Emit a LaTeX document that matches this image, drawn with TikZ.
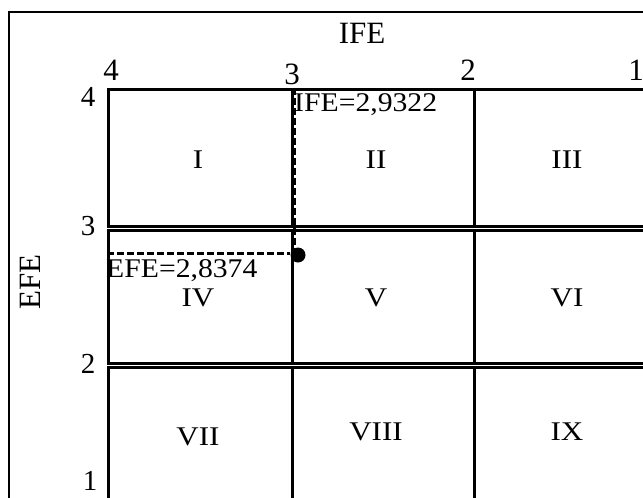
\documentclass[tikz,border=0pt]{standalone}
\usepackage{fontspec}
\usepackage{graphicx}
\setmainfont{Liberation Serif}
% slightly widened text, as in the printed chart
\newcommand\widetext[2][1.12]{\scalebox{#1}[1]{#2}}
\begin{document}
\begin{tikzpicture}[x=1pt,y=-1pt,
  frame/.style={draw=black,line width=2pt},
  cell/.style={draw=black,line width=2.8pt,anchor=north west,inner sep=0pt},
  lbl/.style={font=\fontsize{27}{30}\selectfont,inner sep=0pt},
  tick/.style={font=\fontsize{31}{33}\selectfont,inner sep=0pt},
  ytick/.style={font=\fontsize{29}{31}\selectfont,inner sep=0pt},
  title/.style={font=\fontsize{31}{33}\selectfont,inner sep=0pt},
  val/.style={font=\fontsize{27}{30}\selectfont,inner sep=0pt,anchor=west},
  guide/.style={draw=black,line width=3pt,dash pattern=on 7pt off 3pt},
  dot/.style={circle,fill=black,minimum size=15pt,inner sep=0pt}]
\useasboundingbox (0,0) rectangle (643,498);
% outer frame
\draw[frame] (9,12) rectangle (660,520);
% grid cells, one row of boxes per EFE band
\node[cell,minimum width=184pt,minimum height=137pt] (c1) at (107,88) {};
\node[cell,minimum width=182pt,minimum height=137pt] (c2) at (291,88) {};
\node[cell,minimum width=182pt,minimum height=137pt] (c3) at (473,88) {};
\node[cell,minimum width=184pt,minimum height=133pt] (c4) at (107,229) {};
\node[cell,minimum width=182pt,minimum height=133pt] (c5) at (291,229) {};
\node[cell,minimum width=182pt,minimum height=133pt] (c6) at (473,229) {};
\node[cell,minimum width=184pt,minimum height=150pt] (c7) at (107,366) {};
\node[cell,minimum width=182pt,minimum height=150pt] (c8) at (291,366) {};
\node[cell,minimum width=182pt,minimum height=150pt] (c9) at (473,366) {};
% quadrant numerals
\node[lbl] (n1) at (198,160) {\widetext[1.15]{I}};
\node[lbl] (n2) at (376,160) {\widetext[1.15]{II}};
\node[lbl] (n3) at (567,160) {\widetext[1.15]{III}};
\node[lbl] (n4) at (198,298) {\widetext[1.15]{IV}};
\node[lbl] (n5) at (376,298) {\widetext[1.15]{V}};
\node[lbl] (n6) at (567,298) {\widetext[1.15]{VI}};
\node[lbl] (n7) at (198,437) {\widetext[1.15]{VII}};
\node[lbl] (n8) at (376,432) {\widetext[1.15]{VIII}};
\node[lbl] (n9) at (567,432) {\widetext[1.15]{IX}};
% axis titles and ticks
\node[title] (ife) at (362,33) {IFE};
\node[title,rotate=90] (efe) at (30,282) {EFE};
\node[tick] (tx4) at (111,70) {4};
\node[tick] (tx3) at (292,74) {3};
\node[tick] (tx2) at (468,70) {2};
\node[tick] (tx1) at (636,70) {1};
\node[ytick] (ty4) at (88,97) {4};
\node[ytick] (ty3) at (88,226) {3};
\node[ytick] (ty2) at (88,364) {2};
\node[ytick] (ty1) at (90,481) {1};
% position of the organisation
\node[dot] (pt) at (298,255) {};
\coordinate (ifeTop) at (294,88);
\coordinate (efeLeft) at (107,253);
\draw[guide] (ifeTop) -- (ifeTop |- pt.center);
\draw[guide] (efeLeft) -- (efeLeft -| pt.west);
\node[val] (ifeval) at (294,105) {\widetext[1.1]{IFE=2,9322}};
\node[val] (efeval) at (106,271) {\widetext[1.1]{EFE=2,8374}};
\end{tikzpicture}
\end{document}
